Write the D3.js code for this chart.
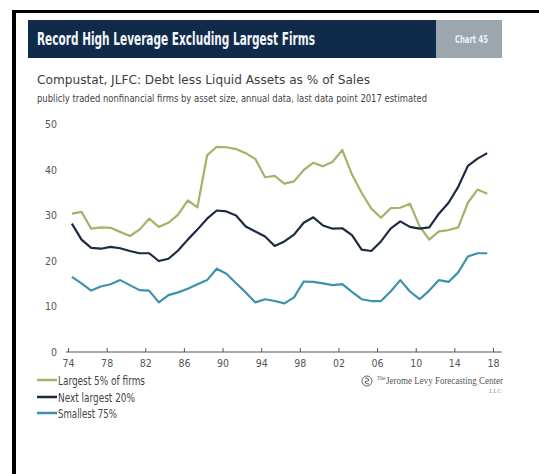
<!DOCTYPE html>
<html>
<head>
<meta charset="utf-8">
<script src="https://cdn.jsdelivr.net/npm/d3@7"></script>
<style>
  html, body { margin: 0; padding: 0; background: #fff; }
  svg { display: block; }
  .narrow { font-family: "Liberation Sans Narrow", "DejaVu Sans Condensed", "Liberation Sans", sans-serif; }
</style>
</head>
<body>
<svg id="chart" width="539" height="474"></svg>
<script>
// Annual observations, 1974–2017 (2017 estimated)
const years = d3.range(1974, 2018);

const largest5 = [30.4, 30.8, 27.1, 27.4, 27.3, 26.4, 25.5, 26.9, 29.3, 27.5,
  28.4, 30.2, 33.3, 31.8, 43.2, 45.1, 45.0, 44.6, 43.7, 42.4,
  38.4, 38.7, 37.0, 37.5, 40.0, 41.6, 40.8, 41.8, 44.4, 39.0,
  35.0, 31.5, 29.5, 31.6, 31.7, 32.6, 27.6, 24.7, 26.5, 26.8,
  27.4, 32.8, 35.7, 34.8];

const next20 = [28.2, 24.7, 22.9, 22.7, 23.1, 22.8, 22.2, 21.7, 21.7, 20.0,
  20.5, 22.3, 24.7, 26.9, 29.3, 31.1, 30.9, 30.0, 27.6, 26.5,
  25.4, 23.3, 24.3, 25.8, 28.4, 29.6, 27.8, 27.1, 27.2, 25.7,
  22.5, 22.2, 24.3, 27.1, 28.7, 27.5, 27.1, 27.4, 30.4, 32.8,
  36.3, 40.9, 42.5, 43.7];

const smallest75 = [16.5, 15.1, 13.5, 14.4, 14.9, 15.8, 14.7, 13.6, 13.5, 10.9,
  12.5, 13.1, 13.9, 14.9, 15.8, 18.3, 17.2, 15.1, 13.1, 10.9,
  11.6, 11.2, 10.7, 12.0, 15.5, 15.4, 15.1, 14.7, 14.9, 13.2,
  11.6, 11.2, 11.2, 13.3, 15.8, 13.3, 11.6, 13.5, 15.8, 15.4,
  17.5, 21.0, 21.7, 21.7];

const seriesNames = ["Largest 5% of firms", "Next largest 20%", "Smallest 75%"];
const seriesColors = ["#a9b06a", "#1c2a43", "#3c92ad"];
const seriesValues = [largest5, next20, smallest75];
const legendWidths = [87, 77, 59];

const xTicks = d3.range(1974, 2019, 4);
const yTicks = [0, 10, 20, 30, 40, 50];

const titleText = "Record High Leverage Excluding Largest Firms";
const chartNo = "Chart 45";
const subTitle = "Compustat, JLFC: Debt less Liquid Assets as % of Sales";
const subNote = "publicly traded nonfinancial firms by asset size, annual data, last data point 2017 estimated";

const svg = d3.select("#chart");

// frame edges
svg.append("rect").attr("x", 12).attr("y", 10).attr("width", 527).attr("height", 3).attr("fill", "#000");
svg.append("rect").attr("x", 12).attr("y", 10).attr("width", 4).attr("height", 464).attr("fill", "#000");

// header band
svg.append("rect").attr("x", 28).attr("y", 20).attr("width", 408).attr("height", 38).attr("fill", "#0f2a4b");
svg.append("rect").attr("x", 436).attr("y", 20).attr("width", 66).attr("height", 38).attr("fill", "#9ba6ae");
svg.append("text").attr("class", "narrow")
  .attr("x", 37).attr("y", 45)
  .attr("font-size", 17).attr("font-weight", "bold").attr("fill", "#f4f6f8")
  .attr("textLength", 278).attr("lengthAdjust", "spacingAndGlyphs")
  .text(titleText);
svg.append("text").attr("class", "narrow")
  .attr("x", 455).attr("y", 43)
  .attr("font-size", 11).attr("font-weight", "bold").attr("fill", "#eef1f3")
  .attr("textLength", 33).attr("lengthAdjust", "spacingAndGlyphs")
  .text(chartNo);

svg.append("text").attr("class", "narrow")
  .attr("x", 37).attr("y", 84)
  .attr("font-size", 12.5).attr("fill", "#3d3d3d")
  .attr("textLength", 333).attr("lengthAdjust", "spacingAndGlyphs")
  .text(subTitle);
svg.append("text").attr("class", "narrow")
  .attr("x", 37).attr("y", 102)
  .attr("font-size", 10).attr("fill", "#444")
  .attr("textLength", 390).attr("lengthAdjust", "spacingAndGlyphs")
  .text(subNote);

// scales
const x = d3.scaleLinear().domain([1974, 2018]).range([68, 493]);
const y = d3.scaleLinear().domain([0, 50]).range([352, 124.5]);
const plotOffset = 0.4; // annual values placed within their year

// y labels (no axis line)
const yAxis = d3.axisLeft(y).tickValues(yTicks).tickSize(0).tickPadding(0).tickFormat(d3.format("d"));
const gy = svg.append("g").attr("transform", "translate(57,0)").call(yAxis);
gy.select(".domain").remove();
gy.selectAll("text").attr("class", "narrow").attr("font-size", 10.5).attr("fill", "#555");

// x axis
const xAxis = d3.axisBottom(x).tickValues(xTicks)
  .tickSizeInner(-4).tickSizeOuter(0).tickPadding(8)
  .tickFormat(d => String(d).slice(2));
const gx = svg.append("g").attr("transform", `translate(0,${y(0)})`).call(xAxis);
gx.select(".domain").remove();
gx.append("line").attr("x1", x(1973.8)).attr("x2", x(2018.9))
  .attr("stroke", "#555").attr("stroke-width", 1);
gx.selectAll(".tick line").attr("stroke", "#555");
gx.selectAll("text").attr("class", "narrow").attr("font-size", 10.5).attr("fill", "#555");

// series lines
const line = d3.line()
  .x((d, i) => x(years[i] + plotOffset))
  .y(d => y(d));

seriesValues.forEach((vals, k) => {
  svg.append("path")
    .datum(vals)
    .attr("fill", "none")
    .attr("stroke", seriesColors[k])
    .attr("stroke-width", 2.2)
    .attr("stroke-linejoin", "round")
    .attr("d", line);
});

// legend
const legendY = d3.scaleOrdinal().domain(seriesNames).range([380, 397, 413]);
const lg = svg.append("g");
seriesNames.forEach((name, k) => {
  const ly = legendY(name);
  lg.append("line").attr("x1", 37).attr("x2", 57).attr("y1", ly).attr("y2", ly)
    .attr("stroke", seriesColors[k]).attr("stroke-width", 2.5);
  lg.append("text").attr("class", "narrow")
    .attr("x", 58).attr("y", ly + 4.5)
    .attr("font-size", 12).attr("fill", "#444")
    .attr("textLength", legendWidths[k]).attr("lengthAdjust", "spacingAndGlyphs")
    .text(name);
});

// publisher mark
const logo = svg.append("g").attr("transform", "translate(367,381)");
logo.append("circle").attr("r", 5).attr("fill", "none").attr("stroke", "#666").attr("stroke-width", 1);
logo.append("path").attr("d", "M-2,-3 C2,-3 3,0 0,0 C-3,0 -2,3 2,3")
  .attr("fill", "none").attr("stroke", "#666").attr("stroke-width", 1.1);
svg.append("text")
  .attr("x", 377).attr("y", 380)
  .attr("font-family", "'Liberation Serif', 'DejaVu Serif', serif")
  .attr("font-size", 5.5).attr("fill", "#555")
  .text("The");
svg.append("text")
  .attr("x", 386).attr("y", 384)
  .attr("font-family", "'Liberation Serif', 'DejaVu Serif', serif")
  .attr("font-size", 10).attr("fill", "#555")
  .attr("textLength", 117).attr("lengthAdjust", "spacingAndGlyphs")
  .text("Jerome Levy Forecasting Center");
svg.append("text")
  .attr("x", 502).attr("y", 393).attr("text-anchor", "end")
  .attr("font-family", "'Liberation Serif', serif").attr("font-style", "italic")
  .attr("font-size", 5.5).attr("fill", "#777").attr("letter-spacing", 1)
  .text("LLC");
</script>
</body>
</html>
